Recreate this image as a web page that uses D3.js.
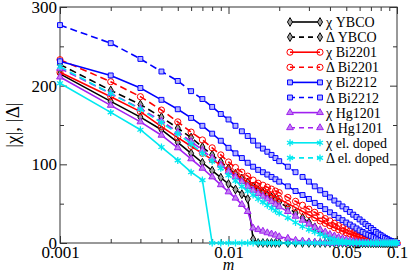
<!DOCTYPE html>
<html>
<head>
<meta charset="utf-8">
<script src="https://cdnjs.cloudflare.com/ajax/libs/d3/7.8.5/d3.min.js"></script>
<style>
  body { margin: 0; background: #fff; }
  svg { display: block; }
  svg text { font-family: 'Liberation Serif', 'Times New Roman', Tinos, 'Nimbus Roman', 'DejaVu Serif', serif !important; }
</style>
</head>
<body>
<svg id="chart" width="409" height="275"></svg>
<script>
// doping m (shared x grid)
const m = [0.001, 0.002, 0.003, 0.004, 0.005, 0.006, 0.007, 0.008, 0.009, 0.010,
           0.011, 0.012, 0.013, 0.014, 0.015, 0.016, 0.017, 0.018, 0.019, 0.020,
           0.0225, 0.025, 0.0275, 0.030, 0.0325, 0.035, 0.0375, 0.040, 0.0425, 0.045,
           0.0475, 0.050, 0.0525, 0.055, 0.0575, 0.060, 0.0625, 0.065, 0.0675, 0.070,
           0.0725, 0.075, 0.0775, 0.080, 0.0825, 0.085, 0.0875, 0.090, 0.0925, 0.095,
           0.0975, 0.100];

// values
const chiYBCO = [215, 180, 160, 144, 128, 114, 102, 92, 83, 75,
                 68, 62, 56, 5, 0, 0, 0, 0, 0, 0,
                 0, 0, 0, 0, 0, 0, 0, 0, 0, 0,
                 0, 0, 0, 0, 0, 0, 0, 0, 0, 0,
                 0, 0, 0, 0, 0, 0, 0, 0, 0, 0,
                 0, 0];
const deltaYBCO = [227, 194, 176, 160, 146, 134, 122, 112, 103, 95,
                   88, 82, 77, 72, 67, 64, 61, 58, 55, 52,
                   45, 38, 32, 26, 20, 15, 11, 7, 4, 2,
                   1, 0.5, 0.2, 0, 0, 0, 0, 0, 0, 0,
                   0, 0, 0, 0, 0, 0, 0, 0, 0, 0,
                   0, 0];
const chiBi2201 = [217, 186, 167, 148, 134, 123, 114, 106, 99, 93,
                   87, 82, 77, 73, 70, 67, 64, 61, 58, 56,
                   50, 45, 40, 36, 32, 28, 25, 22, 19.5, 17,
                   15, 13, 11.5, 10, 8.7, 7.5, 6.5, 5.5, 4.7, 4,
                   3.4, 2.8, 2.3, 1.8, 1.4, 1, 0.7, 0.5, 0.3, 0.2,
                   0.1, 0];
const deltaBi2201 = [233, 205, 186, 169, 154, 141, 131, 121, 112, 103,
                     96, 90, 85, 80, 76, 73.5, 71, 68.5, 66, 64,
                     58, 53, 48, 43, 39, 35, 31, 28, 25, 22,
                     19.5, 17, 15, 13, 11.5, 10, 8.7, 7.5, 6.5, 5.5,
                     4.7, 4, 3.3, 2.7, 2.1, 1.6, 1.2, 0.8, 0.5, 0.3,
                     0.1, 0];
const chiBi2212 = [231, 213, 197, 182, 170, 159, 149, 139, 130, 121,
                   114, 108, 102, 97, 93, 90, 87, 84, 81, 78,
                   72, 66, 61, 56, 51, 47, 43, 39, 35.5, 32,
                   29, 26, 23.5, 21, 18.5, 16, 14, 12, 10.5, 9,
                   7.5, 6, 4.7, 3.5, 2.5, 1.5, 1, 0.5, 0.2, 0,
                   0, 0];
const deltaBi2212 = [277, 254, 234, 218, 206, 193, 183, 173, 164, 157,
                     149, 142, 136, 130, 124, 120, 116, 112, 108, 104,
                     97, 90, 84, 78, 72, 67, 62.5, 58, 54, 50,
                     46.5, 43, 39.5, 36, 33, 30, 27, 24, 21.5, 19,
                     16.5, 14, 12, 10, 8.2, 6.5, 5, 3.5, 2.5, 1.5,
                     0.7, 0];
const chiHg1201 = [211, 175, 154, 137, 121, 107, 95, 84, 74, 65,
                   57, 49, 40, 19, 17, 15, 13, 11.5, 10, 8,
                   6, 3.5, 2.5, 1.5, 1, 0.5, 0.2, 0, 0, 0,
                   0, 0, 0, 0, 0, 0, 0, 0, 0, 0,
                   0, 0, 0, 0, 0, 0, 0, 0, 0, 0,
                   0, 0];
const deltaHg1201 = [222, 190, 171, 155, 141, 129, 118, 108, 99, 91,
                     84, 78, 72, 67, 63, 59.5, 56, 52.5, 49, 46,
                     40, 34, 29, 24, 20, 17, 14, 11, 9, 7,
                     5.5, 4, 3, 2, 1.5, 1, 0.6, 0.3, 0.1, 0,
                     0, 0, 0, 0, 0, 0, 0, 0, 0, 0,
                     0, 0];
const chiEl = [203, 166, 144, 122, 105, 90, 80, 0, 0, 0,
               0, 0, 0, 0, 0, 0, 0, 0, 0, 0,
               0, 0, 0, 0, 0, 0, 0, 0, 0, 0,
               0, 0, 0, 0, 0, 0, 0, 0, 0, 0,
               0, 0, 0, 0, 0, 0, 0, 0, 0, 0,
               0, 0];
const deltaEl = [224, 190, 170, 153, 139, 126, 114, 104, 95, 86,
                 79, 72, 66, 61, 56, 52, 48, 44.5, 41, 38,
                 32, 26, 21, 17, 14, 11, 8.5, 6, 4.5, 3,
                 2.2, 1.5, 1, 0.6, 0.4, 0.2, 0, 0, 0, 0,
                 0, 0, 0, 0, 0, 0, 0, 0, 0, 0,
                 0, 0];

const labels = ['χ YBCO', 'Δ YBCO', 'χ Bi2201', 'Δ Bi2201', 'χ Bi2212', 'Δ Bi2212',
                'χ Hg1201', 'Δ Hg1201', 'χ el. doped', 'Δ el. doped'];
const xTickLabels = [0.001, 0.01, 0.05, 0.1];
const yTicks = [0, 100, 200, 300];

const W = 409, H = 275;
const margin = {left: 60, right: 12, top: 7, bottom: 32};
const FONT = "'Liberation Serif', 'Times New Roman', Tinos, 'Nimbus Roman', 'DejaVu Serif', serif";

// styles per compound
const compounds = [
    {color: '#000000', shape: d3.symbolDiamond, fill: '#a0a0a0', size: 22},
    {color: '#ff0000', shape: d3.symbolCircle, fill: 'none', size: 30},
    {color: '#0000ff', shape: d3.symbolSquare, fill: '#b4b4ff', size: 24},
    {color: '#a020f0', shape: d3.symbolTriangle, fill: '#c080f0', size: 20},
    {color: '#00e8f0', shape: d3.symbolAsterisk, fill: 'none', size: 34}
];

const allValues = [chiYBCO, deltaYBCO, chiBi2201, deltaBi2201, chiBi2212, deltaBi2212,
                   chiHg1201, deltaHg1201, chiEl, deltaEl];

let series = allValues.map(function(vals, i){
    let c = compounds[Math.floor(i / 2)];
    return {label: labels[i], values: vals, dashed: i % 2 === 1,
            color: c.color, shape: c.shape, fill: c.fill, size: c.size};
});

let svg = d3.select('#chart').attr('font-family', FONT);

let x = d3.scaleLog()
    .domain([0.001, 0.1])
    .range([margin.left, W - margin.right]);

let y = d3.scaleLinear()
    .domain([0, 300])
    .range([H - margin.bottom, margin.top]);

// minor ticks on log axis
let minorTicks = [];
[0.001, 0.01].forEach(function(d){
    for (let k = 2; k <= 9; k++) minorTicks.push(d * k);
});
let majorX = [0.001, 0.01, 0.1];

function styleAxis(g){
    g.attr('font-family', FONT);
    g.select('.domain').remove();
    g.selectAll('line').attr('stroke', '#333').attr('stroke-width', 1);
    g.selectAll('text').attr('font-size', 17).attr('fill', '#000');
}

// bottom
svg.append('g').attr('transform', `translate(0,${y(0)})`)
    .call(d3.axisBottom(x).tickValues(minorTicks).tickSize(-4).tickFormat(''))
    .call(styleAxis);
svg.append('g').attr('transform', `translate(0,${y(0)})`)
    .call(d3.axisBottom(x).tickValues(majorX).tickSize(-7).tickFormat(''))
    .call(styleAxis);
svg.append('g').attr('transform', `translate(0,${y(0)})`)
    .call(d3.axisBottom(x).tickValues(xTickLabels).tickSize(0).tickPadding(3)
        .tickFormat(d => String(d)))
    .call(styleAxis);

// top
svg.append('g').attr('transform', `translate(0,${y(300)})`)
    .call(d3.axisTop(x).tickValues(minorTicks).tickSize(-4).tickFormat(''))
    .call(styleAxis);
svg.append('g').attr('transform', `translate(0,${y(300)})`)
    .call(d3.axisTop(x).tickValues(majorX).tickSize(-7).tickFormat(''))
    .call(styleAxis);

// left / right
let yMinor = [50, 150, 250];
svg.append('g').attr('transform', `translate(${x(0.001)},0)`)
    .call(d3.axisLeft(y).tickValues(yMinor).tickSize(-4).tickFormat(''))
    .call(styleAxis);
svg.append('g').attr('transform', `translate(${x(0.001)},0)`)
    .call(d3.axisLeft(y).tickValues(yTicks).tickSize(-7).tickPadding(3).tickFormat(d3.format('d')))
    .call(styleAxis);
svg.append('g').attr('transform', `translate(${x(0.1)},0)`)
    .call(d3.axisRight(y).tickValues(yMinor).tickSize(-4).tickFormat(''))
    .call(styleAxis);
svg.append('g').attr('transform', `translate(${x(0.1)},0)`)
    .call(d3.axisRight(y).tickValues(yTicks).tickSize(-7).tickFormat(''))
    .call(styleAxis);

// frame
svg.append('rect')
    .attr('x', x(0.001)).attr('y', y(300))
    .attr('width', x(0.1) - x(0.001)).attr('height', y(0) - y(300))
    .attr('fill', 'none').attr('stroke', '#333').attr('stroke-width', 1);

// curves
let line = d3.line()
    .x((d, i) => x(m[i]))
    .y(d => y(d));

function drawMarkers(g, s, pts){
    let sym = d3.symbol().type(s.shape).size(s.size);
    g.selectAll('path.mk')
        .data(pts)
        .enter()
        .append('path')
        .attr('class', 'mk')
        .attr('transform', d => `translate(${d[0]},${d[1]})`)
        .attr('d', sym)
        .attr('fill', s.fill)
        .attr('stroke', s.color)
        .attr('stroke-width', s.shape === d3.symbolAsterisk ? 1.3 : 1);
}

series.forEach(function(s){
    let g = svg.append('g');
    g.append('path')
        .datum(s.values)
        .attr('d', line)
        .attr('fill', 'none')
        .attr('stroke', s.color)
        .attr('stroke-width', 1.6)
        .attr('stroke-dasharray', s.dashed ? '7,4' : null);
    drawMarkers(g, s, s.values.map((v, i) => [x(m[i]), y(v)]));
});

// legend
let legX1 = 290, legX2 = 320, legY0 = 22, legStep = 15.1;
series.forEach(function(s, i){
    let ly = legY0 + i * legStep;
    let g = svg.append('g');
    g.append('line')
        .attr('x1', legX1).attr('x2', legX2)
        .attr('y1', ly).attr('y2', ly)
        .attr('stroke', s.color).attr('stroke-width', 1.6)
        .attr('stroke-dasharray', s.dashed ? '5,4' : null);
    drawMarkers(g, s, [[legX1, ly], [legX2, ly]]);
    g.append('text')
        .attr('x', 326).attr('y', ly + 5)
        .attr('font-size', 14)
        .text(s.label);
});

// axis titles
svg.append('text')
    .attr('x', x(0.01)).attr('y', 270)
    .attr('text-anchor', 'middle')
    .attr('font-size', 16)
    .attr('font-style', 'italic')
    .text('m');

svg.append('text')
    .attr('transform', 'translate(19,125) rotate(-90)')
    .attr('text-anchor', 'middle')
    .attr('font-size', 19)
    .text('|χ|, |Δ|');
</script>
</body>
</html>
